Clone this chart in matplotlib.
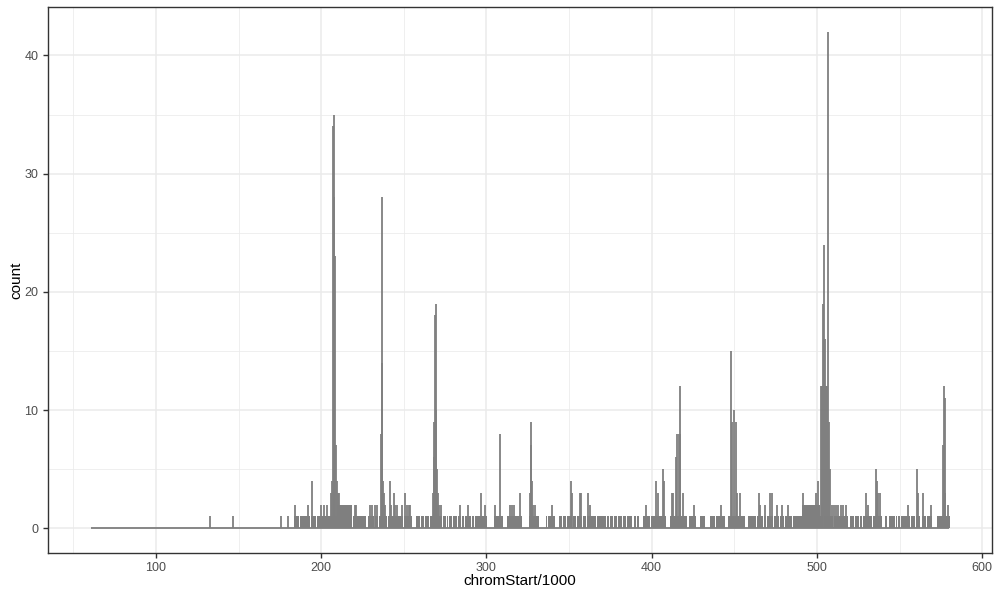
import numpy as np
import matplotlib
matplotlib.use("Agg")
import matplotlib.pyplot as plt

plt.rcParams["font.family"] = ["Liberation Sans", "DejaVu Sans"]

# range of the binned positions (kb)
x_first = 60.6
x_last = 580.0

# stretches where the count is (almost) always >= 1
cover_start = [183.4, 228.2, 256.5, 304.6, 312.3, 325.7, 336.2, 343.8, 389.3,
               394.8, 399.8, 411.3, 422.6, 429.1, 435.2, 439.2, 446.3, 458.4,
               504.1, 520.0, 534.1, 541.2, 543.8, 563.4, 572.5]
cover_end = [227.0, 255.2, 300.6, 309.9, 321.6, 332.1, 341.2, 388.2, 392.3,
             398.8, 408.9, 421.4, 427.1, 432.1, 438.2, 444.3, 456.4, 503.6,
             519.0, 533.1, 539.2, 542.6, 562.4, 569.5, 580.8]
# thin empty bins inside the stretches
gap_pos = [186.7, 193.7, 197.4, 219.0, 232.1, 234.8, 240.2, 249.7,
           257.0, 259.8, 262.4, 265.5, 273.1, 275.6, 277.2, 279.6, 282.6,
           284.6, 286.7, 290.7, 292.7, 337.2, 346.3, 348.3, 352.3, 354.3,
           358.0, 360.4, 366.5, 372.5, 374.6, 377.0, 379.6, 382.2, 384.7,
           390.7, 463.4, 467.5, 469.5, 473.5, 477.6, 480.6, 485.0, 509.9,
           523.0, 525.7, 527.7, 547.3, 548.7, 550.3, 556.4, 559.4, 566.1]

# stretches at count 2
lvl2_start = [209.5, 491.0]
lvl2_end = [218.5, 501.8]

# single bins with a count above the surrounding level
spike_pos = [132.5, 146.7, 175.5, 180.0,
             184.4, 192.0, 194.7, 199.7, 201.7, 203.7, 205.9, 206.6, 207.3,
             207.7, 208.0, 208.3, 208.7, 209.3, 210.3, 211.0, 220.3, 221.0,
             229.5, 231.0, 232.5, 234.0, 236.3, 236.7, 237.0, 237.3, 237.7,
             238.5, 241.5, 242.5, 243.8, 244.8, 246.0,
             249.0, 250.7, 252.0, 253.0, 254.0, 267.6, 268.0, 268.4, 268.8,
             269.2, 269.6, 270.0, 270.5, 271.0, 272.3, 284.2, 289.0, 296.8,
             299.4, 305.2, 308.3, 314.5, 315.5, 316.5, 320.6, 326.3, 326.7,
             327.0, 327.4, 328.0, 329.1, 339.8, 350.9, 352.0, 356.4, 357.2,
             361.4, 362.4,
             396.8, 402.8, 403.8, 406.9, 407.5, 412.0, 413.0, 414.9, 415.5,
             416.3, 416.9, 417.4, 419.0, 425.6, 441.8, 447.9, 448.5, 449.9,
             450.9, 451.5, 453.7, 465.0, 465.8, 468.5, 471.5, 472.7, 476.0,
             478.8, 482.4,
             491.7, 499.2, 500.8, 502.4, 503.2, 503.8, 504.4, 504.9, 505.5,
             506.0, 506.7, 507.4, 508.0, 509.2, 510.3, 511.8, 513.0, 514.4,
             515.6, 517.4, 529.7, 531.1, 535.8, 536.4, 537.2, 538.2, 555.3,
             560.8, 561.4, 564.0, 568.9, 576.4, 576.9, 577.3, 577.7, 579.6]
spike_cnt = [1, 1, 1, 1,
             2, 2, 4, 2, 2, 2, 3, 4, 34,
             35, 28, 23, 7, 4, 3, 3, 2, 2,
             2, 2, 2, 2, 8, 14, 28, 4, 3,
             2, 4, 2, 3, 2, 2,
             2, 3, 2, 2, 2, 3, 6, 9, 18,
             19, 10, 5, 3, 2, 2, 2, 2, 3,
             2, 2, 8, 2, 2, 2, 3, 3, 9,
             7, 4, 2, 2, 2, 4, 3, 3, 3,
             3, 2,
             2, 4, 3, 5, 4, 3, 3, 6, 8,
             8, 8, 12, 3, 2, 2, 15, 9, 10,
             9, 3, 3, 3, 2, 2, 3, 3, 2,
             2, 2,
             3, 3, 4, 12, 12, 19, 24, 16, 12,
             12, 42, 9, 5, 2, 2, 2, 2, 2,
             2, 2, 3, 2, 5, 4, 3, 3, 2,
             5, 3, 3, 2, 7, 12, 11, 3, 2]

line_col = "#7f7f7f"
gap_w = 0.6

# split the covered stretches at the empty bins
blk_left, blk_width = [], []
for s, e in zip(cover_start, cover_end):
    cuts = [g for g in gap_pos if s < g < e]
    edges = [s]
    for g in cuts:
        edges += [g - gap_w / 2, g + gap_w / 2]
    edges.append(e)
    for a, b in zip(edges[0::2], edges[1::2]):
        blk_left.append(a)
        blk_width.append(b - a)

fig = plt.figure(figsize=(10, 6), dpi=100)
ax = fig.add_axes([0.048, 0.0783, 0.944, 0.9100])

ax.bar(blk_left, 1, width=blk_width, align="edge", color=line_col,
       linewidth=0, zorder=3)
ax.bar(lvl2_start, 2, width=np.subtract(lvl2_end, lvl2_start), align="edge",
       color=line_col, linewidth=0, zorder=3)
ax.vlines(spike_pos, 0, spike_cnt, color=line_col, linewidth=1.3,
          capstyle="butt", zorder=4)
ax.plot([x_first, x_last], [0, 0], color=line_col, linewidth=1.3,
        solid_capstyle="butt", zorder=4)

span = x_last - x_first
ax.set_xlim(x_first - 0.05 * span, x_last + 0.05 * span)
ymax = max(spike_cnt)
ax.set_ylim(-0.05 * ymax, ymax * 1.05)

ax.set_xticks([100, 200, 300, 400, 500, 600])
ax.set_xticks([50, 150, 250, 350, 450, 550], minor=True)
ax.set_yticks([0, 10, 20, 30, 40])
ax.set_yticks([5, 15, 25, 35], minor=True)

ax.grid(which="major", color="#ebebeb", linewidth=1.1, zorder=0)
ax.grid(which="minor", color="#ebebeb", linewidth=0.55, zorder=0)
ax.set_axisbelow(True)

for sp in ax.spines.values():
    sp.set_color("#333333")
    sp.set_linewidth(1.0)

ax.tick_params(which="major", length=3.8, width=1.0, color="#333333",
               labelcolor="#4d4d4d", labelsize=9, pad=3)
ax.tick_params(which="minor", length=0)

ax.set_xlabel("chromStart/1000", fontsize=11, color="black", labelpad=0)
ax.set_ylabel("count", fontsize=11, color="black", labelpad=1)

fig.savefig("out.png", dpi=100)
